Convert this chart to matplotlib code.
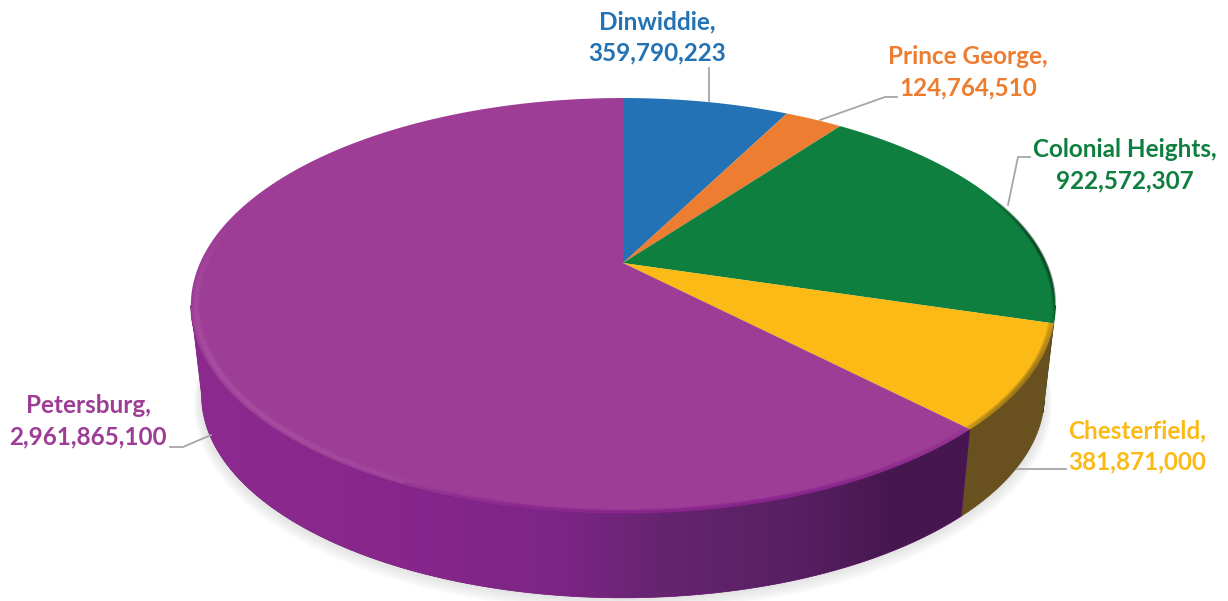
import numpy as np
import matplotlib
matplotlib.use('Agg')
from matplotlib import pyplot as plt
from matplotlib.colors import to_rgb
from matplotlib.patches import Polygon
from matplotlib.collections import LineCollection

names = ['Dinwiddie', 'Prince George', 'Colonial Heights', 'Chesterfield', 'Petersburg']
values = [359790223, 124764510, 922572307, 381871000, 2961865100]
top_colors = ['#2372b5', '#ed7d31', '#0f7f40', '#fbba15', '#9d3d96']
text_colors = ['#2372b5', '#ed7d31', '#0f7f40', '#fbba15', '#9d3d96']
wall_colors = ['#123a5c', '#7a4018', '#0a4020', '#68501f', None]

# perspective of the disc, in pixels
cx, cy = 623, 263
k = 0.205
A, C = 198.8, 423


def project(theta, scale=1.0, dy=0.0):
  u, v = np.sin(theta), np.cos(theta)
  d = 1 + k*v
  return cx + scale*C*u/d, cy + dy - scale*A*v/d


def rim(t0, t1, scale, color, alpha0, alpha1, width):
  # soft line along the edge of the top face, alpha runs from t0 to t1
  ts = np.radians(np.linspace(t0, t1, 300))
  x, y = project(ts, scale)
  pts = np.c_[x, y]
  segs = np.stack([pts[:-1], pts[1:]], axis=1)
  alphas = np.sin(np.linspace(0, np.pi, len(segs)))*alpha0 + alpha1
  cols = [(*to_rgb(color), a) for a in alphas]
  ax.add_collection(LineCollection(segs, colors=cols, linewidths=width, capstyle='butt', zorder=4))


fig = plt.figure(figsize=(12.28, 6.01), dpi=100)
ax = fig.add_axes([0, 0, 1, 1])
ax.set_xlim(0, 1228)
ax.set_ylim(601, 0)
ax.axis('off')

fractions = np.array(values)/sum(values)
edges = np.concatenate([[0], np.cumsum(fractions)])*2*np.pi

# soft shadow
t = np.linspace(0, 2*np.pi, 361)
for i in range(7):
  x, y = project(t, 0.975 + 0.003*i, 91 + 1.5*i)
  ax.add_patch(Polygon(np.c_[x, y], fc='#808080', ec='none', alpha=0.035, zorder=1))

# side wall, only the part that faces the viewer
front0 = np.arccos(-k)
front1 = 2*np.pi - front0
stops_x = [190, 400, 560, 660, 800, 890, 960]
stops_c = ['#8c2a90', '#88268c', '#7c2586', '#662470', '#571f62', '#47174f', '#45164f']
stops_r = np.array([to_rgb(c) for c in stops_c])
for i in range(5):
  a, b = max(edges[i], front0), min(edges[i+1], front1)
  if a >= b:
    continue
  ts = np.linspace(a, b, 300)
  x1, y1 = project(ts)
  x2, y2 = project(ts[::-1], 0.975, 91)
  poly = Polygon(np.c_[np.r_[x1, x2], np.r_[y1, y2]], zorder=2)
  if wall_colors[i] is None:
    poly.set(fc='#8c2a90', ec='#6a2070', lw=0.5)
    ax.add_patch(poly)
    grid = np.arange(185, 975)
    img = np.stack([np.interp(grid, stops_x, stops_r[:, c]) for c in range(3)], axis=-1)[None, :, :]
    im = ax.imshow(img, extent=(185, 975, 601, 0), aspect='auto', zorder=2.1, interpolation='bilinear')
    im.set_clip_path(poly)
  else:
    poly.set(fc=wall_colors[i], ec=wall_colors[i], lw=0.6)
    ax.add_patch(poly)
ax.set_xlim(0, 1228)
ax.set_ylim(601, 0)

# top face
for i in range(5):
  ts = np.linspace(edges[i], edges[i+1], 200)
  x, y = project(ts)
  ax.add_patch(Polygon(np.c_[np.r_[cx, x], np.r_[cy, y]], fc=top_colors[i], ec='none', zorder=3))

# bevel along the front edge
for s, a in [(0.992, 0.30), (0.988, 0.40), (0.984, 0.30), (0.980, 0.12)]:
  rim(196, 285, s, '#b25cab', a, 0.0, 2.0)
for s, a in [(0.998, 0.55), (0.994, 0.40), (0.990, 0.25)]:
  rim(136, 205, s, '#85208c', a, 0.1, 2.0)
for s, a in [(0.999, 0.6), (0.995, 0.35), (0.991, 0.15)]:
  rim(106.6, 135.6, s, '#8a6a1c', a, 0.25, 2.0)
for s, a in [(0.999, 0.8), (0.995, 0.35)]:
  rim(70, 106.6, s, '#07351a', a, 0.0, 2.0)

# labels
label_pos = [(657, 37), (968, 72), (1125, 165), (1137, 446), (88, 421)]
leaders = [
  ([709, 709], [68, 101]),
  ([820, 885, 897], [120, 97, 97]),
  ([1008, 1018, 1030], [205, 157, 157]),
  ([1017, 1066], [469, 469]),
  ([211, 183, 170], [435, 447, 447]),
]
for name, val, col, (lx, ly), (hx, hy) in zip(names, values, text_colors, label_pos, leaders):
  ax.plot(hx, hy, color='#a6a6a6', lw=1.3, zorder=5)
  ax.text(lx, ly, f'{name},\n{val:,}', color=col, family='Lato', weight='bold',
          fontsize=17.5, ha='center', va='center', linespacing=1.42, zorder=6)

plt.savefig('out.png', dpi=100)
